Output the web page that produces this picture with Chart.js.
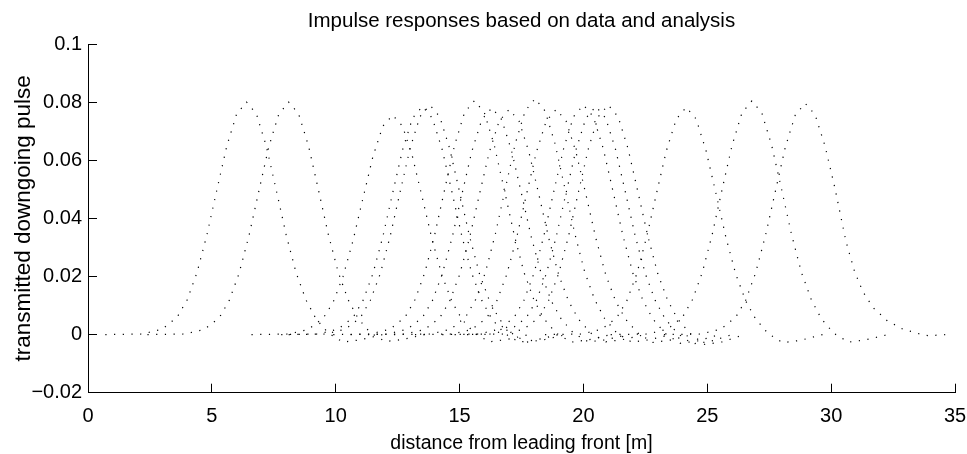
<!DOCTYPE html>
<html><head><meta charset="utf-8">
<script src="https://cdn.jsdelivr.net/npm/chart.js@4"></script>
<style>html,body{margin:0;padding:0;background:#fff}#wrap{width:967px;height:454px;position:relative}</style>
</head><body><div id="wrap"><canvas id="c"></canvas></div>
<script>
const chartTitle = 'Impulse responses based on data and analysis';
const xAxisTitle = 'distance from leading front [m]';
const yAxisTitle = 'transmitted downgoing pulse';
const xTickValues = [0, 5, 10, 15, 20, 25, 30, 35];
const xTickLabels = ['0', '5', '10', '15', '20', '25', '30', '35'];
const yTickValues = [-0.02, 0, 0.02, 0.04, 0.06, 0.08, 0.1];
const yTickLabels = ['\u22120.02', '0', '0.02', '0.04', '0.06', '0.08', '0.1'];

const p01x = [0.7,2.2,3.0,3.6,4.0,4.4,4.8,5.2,5.6,6.0,6.4,6.8,7.2,7.6,8.0,8.4,8.8,9.2,9.7,10.3,11.0,11.9];
const p01y = [0,.0002,.0019,.0060,.0119,.0213,.0343,.0497,.0648,.0759,.0800,.0759,.0648,.0497,.0343,.0213,.0119,.0055,.0005,-.0026,-.0018,0];
const p02x = [2.4,3.9,4.7,5.3,5.7,6.1,6.5,6.9,7.3,7.7,8.1,8.5,8.9,9.3,9.7,10.1,10.5,10.9,11.4,12.0,12.7,13.6];
const p02y = [0,.0002,.0018,.0058,.0117,.0211,.0341,.0495,.0647,.0758,.0800,.0760,.0650,.0499,.0345,.0215,.0120,.0056,.0006,-.0024,-.0017,0];
const p03x = [6.6,8.1,8.9,9.5,9.9,10.3,10.7,11.1,11.5,11.9,12.3,12.7,13.1,13.5,13.9,14.3,14.7,15.1,15.6,16.2,16.9,17.8];
const p03y = [0,.0002,.0018,.0057,.0112,.0201,.0324,.0469,.0612,.0717,.0755,.0717,.0612,.0469,.0324,.0201,.0112,.0052,.0005,-.0025,-.0017,0];
const p04x = [7.8,9.3,10.1,10.7,11.1,11.5,11.9,12.3,12.7,13.1,13.5,13.9,14.3,14.7,15.1,15.5,15.9,16.3,16.8,17.4,18.1,19.0];
const p04y = [0,.0002,.0019,.0059,.0117,.0209,.0336,.0488,.0636,.0745,.0785,.0745,.0636,.0488,.0336,.0209,.0117,.0054,.0005,-.0026,-.0018,0];
const p05x = [8.1,9.6,10.4,11.0,11.4,11.8,12.2,12.6,13.0,13.4,13.8,14.2,14.6,15.0,15.4,15.8,16.2,16.6,17.1,17.7,18.4,19.3];
const p05y = [0,.0002,.0019,.0059,.0118,.0210,.0339,.0491,.0640,.0750,.0790,.0750,.0640,.0491,.0339,.0210,.0118,.0054,.0005,-.0026,-.0018,0];
const p06x = [9.9,11.4,12.2,12.8,13.2,13.6,14.0,14.4,14.8,15.2,15.6,16.0,16.4,16.8,17.2,17.6,18.0,18.4,18.9,19.5,20.2,21.1];
const p06y = [0,.0002,.0019,.0060,.0120,.0214,.0345,.0500,.0652,.0764,.0805,.0764,.0652,.0500,.0345,.0214,.0120,.0055,.0005,-.0026,-.0018,0];
const p07x = [10.6,12.1,12.9,13.5,13.9,14.3,14.7,15.1,15.5,15.9,16.3,16.7,17.1,17.5,17.9,18.3,18.7,19.1,19.6,20.2,20.9,21.8];
const p07y = [0,.0002,.0019,.0059,.0116,.0208,.0334,.0485,.0632,.0740,.0780,.0740,.0632,.0485,.0334,.0208,.0116,.0054,.0005,-.0025,-.0018,0];
const p08x = [11.3,12.8,13.6,14.2,14.6,15.0,15.4,15.8,16.2,16.6,17.0,17.4,17.8,18.2,18.6,19.0,19.4,19.8,20.3,20.9,21.6,22.5];
const p08y = [0,.0002,.0018,.0058,.0115,.0206,.0332,.0482,.0628,.0735,.0775,.0735,.0628,.0482,.0332,.0206,.0115,.0053,.0005,-.0025,-.0017,0];
const p09x = [12.35,13.85,14.65,15.25,15.65,16.05,16.45,16.85,17.25,17.65,18.05,18.45,18.85,19.25,19.65,20.05,20.45,20.85,21.35,21.95,22.65,23.55];
const p09y = [0,.0002,.0019,.0061,.0121,.0216,.0348,.0504,.0658,.0770,.0812,.0770,.0658,.0504,.0348,.0216,.0121,.0056,.0005,-.0026,-.0018,0];
const p10x = [13.2,14.7,15.5,16.1,16.5,16.9,17.3,17.7,18.1,18.5,18.9,19.3,19.7,20.1,20.5,20.9,21.3,21.7,22.2,22.8,23.5,24.4];
const p10y = [0,.0002,.0018,.0058,.0115,.0206,.0332,.0482,.0628,.0735,.0775,.0735,.0628,.0482,.0332,.0206,.0115,.0053,.0005,-.0027,-.0019,0];
const p11x = [14.3,15.8,16.6,17.2,17.6,18.0,18.4,18.8,19.2,19.6,20.0,20.4,20.8,21.2,21.6,22.0,22.4,22.8,23.3,23.9,24.6,25.5];
const p11y = [0,.0002,.0019,.0059,.0118,.0210,.0339,.0491,.0640,.0750,.0790,.0750,.0640,.0491,.0339,.0210,.0118,.0054,.0004,-.0030,-.0022,0];
const p12x = [14.8,16.3,17.1,17.7,18.1,18.5,18.9,19.3,19.7,20.1,20.5,20.9,21.3,21.7,22.1,22.5,22.9,23.3,23.8,24.4,25.1,26.0];
const p12y = [0,.0002,.0019,.0059,.0117,.0209,.0336,.0488,.0636,.0745,.0785,.0745,.0636,.0488,.0336,.0209,.0117,.0054,.0004,-.0032,-.0024,0];
const p13x = [15.3,16.8,17.6,18.2,18.6,19.0,19.4,19.8,20.2,20.6,21.0,21.4,21.8,22.2,22.6,23.0,23.4,23.8,24.3,24.9,25.6,26.5];
const p13y = [0,.0002,.0019,.0059,.0118,.0210,.0339,.0491,.0640,.0750,.0790,.0750,.0640,.0491,.0339,.0210,.0118,.0054,.0004,-.0034,-.0025,0];
const p14x = [18.45,19.95,20.75,21.35,21.75,22.15,22.55,22.95,23.35,23.75,24.15,24.55,24.95,25.35,25.75,26.15,26.55,26.95,27.45,28.05,28.75,29.65];
const p14y = [0,.0002,.0019,.0059,.0116,.0208,.0335,.0486,.0633,.0742,.0782,.0742,.0633,.0486,.0335,.0208,.0116,.0054,.0004,-.0028,-.0020,0];
const p15x = [21.1,22.6,23.4,24.0,24.4,24.8,25.2,25.6,26.0,26.4,26.8,27.2,27.6,28.0,28.4,28.8,29.2,29.6,30.1,30.7,31.4,32.3];
const p15y = [0,.0002,.0019,.0060,.0120,.0214,.0345,.0500,.0651,.0763,.0804,.0763,.0651,.0500,.0345,.0214,.0120,.0055,.0005,-.0026,-.0018,0];
const p16x = [23.25,24.75,25.55,26.15,26.55,26.95,27.35,27.75,28.15,28.55,28.95,29.35,29.75,30.15,30.6,30.95,31.28,31.69,32.26,32.89,33.58,33.92,34.65];
const p16y = [0,.0002,.0019,.0060,.0118,.0212,.0341,.0494,.0645,.0755,.0796,.0757,.0650,.0505,.0320,.0216,.0148,.0093,.0048,.0019,.0002,-.0004,0];

const pulses = [[p01x,p01y],[p02x,p02y],[p03x,p03y],[p04x,p04y],[p05x,p05y],[p06x,p06y],[p07x,p07y],[p08x,p08y],
  [p09x,p09y],[p10x,p10y],[p11x,p11y],[p12x,p12y],[p13x,p13y],[p14x,p14y],[p15x,p15y],[p16x,p16y]];

const FONT = '"Liberation Sans", Arial, Helvetica, sans-serif';

const datasets = pulses.map(([xs, ys], k) => ({
  label: 'pulse ' + (k + 1),
  data: xs.map((x, i) => ({x: x, y: ys[i]})),
  showLine: true,
  pointRadius: 0,
  pointHoverRadius: 0,
  borderColor: '#000',
  borderWidth: 1.2,
  borderDash: [1.2, 7.5],
  borderCapStyle: 'butt',
  tension: 0,
  fill: false
}));

new Chart(document.getElementById('c'), {
  type: 'scatter',
  data: {datasets: datasets},
  options: {
    responsive: true,
    maintainAspectRatio: false,
    animation: false,
    devicePixelRatio: 1,
    events: [],
    layout: {padding: {left: 0, right: 12, top: 0, bottom: 0}},
    plugins: {
      legend: {display: false},
      tooltip: {enabled: false},
      title: {
        display: true, text: chartTitle, color: '#000', fullSize: false,
        font: {family: FONT, size: 20.5, weight: 'normal', lineHeight: 1.2},
        padding: {top: 9, bottom: 10.4}
      }
    },
    scales: {
      x: {
        type: 'linear', position: 'bottom', min: 0, max: 35,
        afterBuildTicks: s => { s.ticks = xTickValues.map(v => ({value: v})); },
        afterFit: s => { s.height = 61.3; s.paddingLeft = 0; s.paddingRight = 0; },
        ticks: {color: '#000', font: {family: FONT, size: 20}, padding: 21, autoSkip: false, maxRotation: 0,
          callback: (v, i) => xTickLabels[i]},
        grid: {drawOnChartArea: false, drawTicks: true, tickLength: -9, color: '#000', lineWidth: 1},
        border: {display: true, color: '#000', width: 1},
        title: {display: true, text: xAxisTitle, color: '#000',
          font: {family: FONT, size: 19.5, lineHeight: 1}, padding: {top: 0, bottom: 1}}
      },
      y: {
        type: 'linear', position: 'left', min: -0.02, max: 0.1,
        afterBuildTicks: s => { s.ticks = yTickValues.map(v => ({value: v})); },
        afterFit: s => { s.width = 88; s.paddingTop = 0; s.paddingBottom = 0; },
        ticks: {color: '#000', font: {family: FONT, size: 20}, padding: 15, autoSkip: false,
          callback: (v, i) => yTickLabels[i]},
        grid: {drawOnChartArea: false, drawTicks: true, tickLength: -9, color: '#000', lineWidth: 1},
        border: {display: true, color: '#000', width: 1},
        title: {display: true, text: yAxisTitle, color: '#000',
          font: {family: FONT, size: 22.5, lineHeight: 1.2}, padding: {top: 10, bottom: 0}}
      }
    }
  }
});
</script>
</body></html>
